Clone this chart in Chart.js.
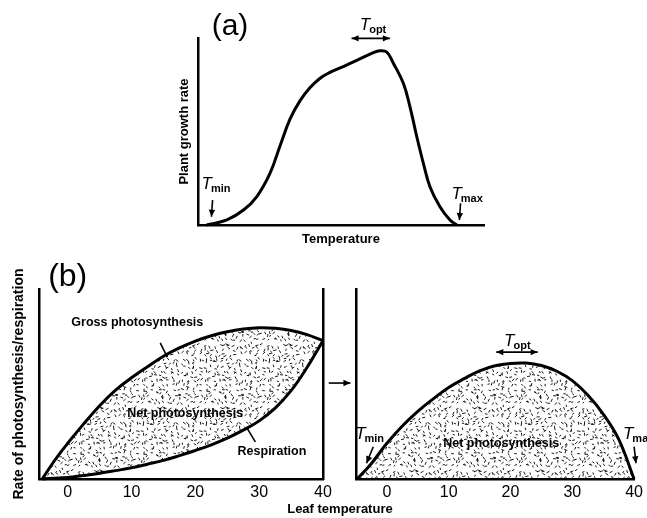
<!DOCTYPE html>
<html lang="en">
<head>
<meta charset="UTF-8">
<title>Temperature response of growth and photosynthesis</title>
<script src="https://cdn.jsdelivr.net/npm/chart.js"></script>
<style>
  body { margin: 0; background: #fff; }
  .stage { position: relative; width: 647px; height: 518px; overflow: hidden; }
  .stage canvas { position: absolute; left: 0; top: 0; }
</style>
</head>
<body>
<div class="stage">
  <canvas id="growthChart" width="647" height="518"></canvas>
  <canvas id="grossChart" width="647" height="518"></canvas>
  <canvas id="netChart" width="647" height="518"></canvas>
</div>
<script>
// (a) plant growth rate vs temperature (relative units, no scale on the axes)
const growthTemp = [3, 10.1, 15.9, 20.5, 25.2, 28.7, 32.2, 35.7, 39.2, 42.7, 46, 49.7, 55.5, 61.3, 63.6, 66, 68.3, 71.8, 74.1, 76.5, 78.8, 81.1, 84.6, 88.1, 90.5];
const growthRate = [0, 2.7, 8, 15.1, 27.8, 42.4, 56.7, 66.5, 73.5, 78.5, 81.5, 84, 88, 92.2, 93.2, 92.5, 86.5, 75.8, 63.3, 47.2, 33, 20.5, 9.8, 2.7, 0];

// (b) left: gross photosynthesis and respiration vs leaf temperature
const leafTemp = [-4, -2, 0, 2.5, 5, 7.5, 10, 12.5, 15, 17.5, 20, 22.5, 25, 27.5, 30, 32.5, 35, 37.5, 40];
const grossPhoto = [0, 10, 18.8, 29, 38.6, 46.8, 53.3, 59.1, 64.6, 69, 72.6, 75.4, 77.5, 78.9, 79.6, 79.3, 78.2, 76, 72.8];
const respiration = [0, 0.4, 0.8, 1.9, 3, 4.4, 5.9, 7.8, 9.8, 12.3, 15, 18, 21.5, 25.7, 30.6, 37.3, 46.5, 58.7, 72.8];

// (b) right: net photosynthesis vs leaf temperature
const netTemp = [-4.8, -2.5, 0, 2.5, 5, 7.5, 10, 12.5, 15, 17.5, 20, 22.5, 25, 27.5, 30, 32.5, 35, 37.5, 40];
const netPhoto = [0, 8.2, 18.8, 27.9, 35.6, 42.2, 48.2, 52.8, 56.9, 59.6, 60.8, 61, 59.7, 56.7, 51.8, 44.2, 34.2, 21, 0];

const leafTicks = [0, 10, 20, 30, 40];

const FONT = "'Liberation Sans', Arial, sans-serif";

// dashed stipple used for the shaded areas (jittered grid of short strokes)
function stipple() {
    const T = 63, step = 4.5;
    const c = document.createElement('canvas');
    c.width = T; c.height = T;
    const g = c.getContext('2d');
    g.strokeStyle = '#000';
    g.lineWidth = 0.9;
    let s = 12345;
    const next = () => (s = (s * 16807) % 2147483647) / 2147483647;
    for (let gx = 0; gx < T; gx += step) {
        for (let gy = 0; gy < T; gy += step) {
            const x = gx + next() * step, y = gy + next() * step;
            const a = next() * Math.PI, l = 2 + next() * 1.4;
            for (const dx of [-T, 0, T]) {
                for (const dy of [-T, 0, T]) {
                    g.beginPath();
                    g.moveTo(x + dx, y + dy);
                    g.lineTo(x + dx + Math.cos(a) * l, y + dy + Math.sin(a) * l);
                    g.stroke();
                }
            }
        }
    }
    return g.createPattern(c, 'repeat');
}

function arrowHead(ctx, x1, y1, x2, y2) {
    const a = Math.atan2(y2 - y1, x2 - x1), L = 7, W = 3.2;
    ctx.beginPath();
    ctx.moveTo(x2, y2);
    ctx.lineTo(x2 - L * Math.cos(a) + W * Math.sin(a), y2 - L * Math.sin(a) - W * Math.cos(a));
    ctx.lineTo(x2 - L * Math.cos(a) - W * Math.sin(a), y2 - L * Math.sin(a) + W * Math.cos(a));
    ctx.closePath();
    ctx.fill();
}

// labels, leader lines and arrows, placed in data units
const figNotes = {
    id: 'figNotes',
    afterDatasetsDraw(chart, args, opts) {
        const { ctx, scales: { x, y } } = chart;
        const px = v => x.getPixelForValue(v), py = v => y.getPixelForValue(v);
        ctx.save();
        ctx.fillStyle = '#000';
        ctx.strokeStyle = '#000';
        for (const n of opts.items || []) {
            if (n.type === 'text') {
                ctx.font = n.font;
                ctx.textAlign = 'center';
                ctx.textBaseline = 'middle';
                ctx.fillText(n.text, px(n.x), py(n.y));
            } else if (n.type === 'tsub') {
                ctx.textAlign = 'left';
                ctx.textBaseline = 'alphabetic';
                ctx.font = `italic 17px ${FONT}`;
                const wT = ctx.measureText('T').width;
                ctx.font = `bold 11px ${FONT}`;
                const wS = ctx.measureText(n.sub).width;
                const x0 = n.left ? px(n.x) : px(n.x) - (wT + wS - 1) / 2;
                const base = py(n.y) + 6;
                ctx.font = `italic 17px ${FONT}`;
                ctx.fillText('T', x0, base);
                ctx.font = `bold 11px ${FONT}`;
                ctx.fillText(n.sub, x0 + wT - 1, base + 3);
            } else if (n.type === 'line' || n.type === 'arrow') {
                const x1 = px(n.from[0]), y1 = py(n.from[1]), x2 = px(n.to[0]), y2 = py(n.to[1]);
                ctx.lineWidth = 1.6;
                ctx.beginPath();
                ctx.moveTo(x1, y1);
                ctx.lineTo(x2, y2);
                ctx.stroke();
                if (n.type === 'arrow') {
                    arrowHead(ctx, x1, y1, x2, y2);
                    if (n.both) arrowHead(ctx, x2, y2, x1, y1);
                }
            }
        }
        ctx.restore();
    }
};

const bare = { display: false, drawTicks: false };
const axisLine = { display: true, color: '#000', width: 2.5 };

function series(xs, ys, extra) {
    return Object.assign({
        data: xs.map((t, i) => ({ x: t, y: ys[i] })),
        borderColor: '#000',
        borderWidth: 3,
        pointRadius: 0,
        tension: 0.4,
        fill: false,
        clip: false
    }, extra);
}

function baseOptions(padding, items) {
    return {
        responsive: false,
        animation: false,
        events: [],
        layout: { padding: padding },
        plugins: {
            legend: { display: false },
            tooltip: { enabled: false },
            figNotes: { items: items }
        }
    };
}

const dots = stipple();
const labelFont = `bold 12.5px ${FONT}`;

// === (a) ===
const growthOpts = baseOptions({ left: 174, right: 163, top: 38, bottom: 269 }, [
    { type: 'text', text: '(a)', font: `30px ${FONT}`, x: 11.2, y: 106 },
    { type: 'tsub', sub: 'opt', x: 61.2, y: 107.3 },
    { type: 'arrow', both: true, from: [53.7, 99.8], to: [67.1, 99.8] },
    { type: 'tsub', sub: 'min', x: 6.3, y: 22.5 },
    { type: 'arrow', from: [5.1, 13.4], to: [4.7, 4.4] },
    { type: 'tsub', sub: 'max', x: 94.1, y: 17.1 },
    { type: 'arrow', from: [91.8, 11.6], to: [91.4, 2.7] }
]);
growthOpts.scales = {
    x: {
        type: 'linear', min: 0, max: 100,
        ticks: { display: false }, grid: bare, border: axisLine,
        title: { display: true, text: 'Temperature', color: '#000', font: { family: FONT, size: 13, weight: 'bold' }, padding: { top: 0, bottom: 2 } },
        afterFit: s => { s.height = 24; }
    },
    y: {
        min: 0, max: 100,
        ticks: { display: false }, grid: bare, border: axisLine,
        title: { display: true, text: 'Plant growth rate', color: '#000', font: { family: FONT, size: 13, weight: 'bold' }, padding: { top: 3, bottom: 0 } },
        afterFit: s => { s.width = 24; }
    }
};
new Chart(document.getElementById('growthChart'), {
    type: 'line',
    data: { datasets: [series(growthTemp, growthRate)] },
    options: growthOpts,
    plugins: [figNotes]
});

// === (b) left ===
const leafX = (min) => ({
    type: 'linear', min: min, max: 40,
    grid: bare, border: axisLine,
    ticks: { color: '#000', font: { family: FONT, size: 16 }, padding: 4 },
    afterBuildTicks: s => { s.ticks = leafTicks.map(v => ({ value: v })); },
    afterFit: s => { s.height = 30; }
});

const grossOpts = baseOptions({ left: 0, right: 324, top: 289, bottom: 9 }, [
    { type: 'text', text: '(b)', font: `32px ${FONT}`, x: 0, y: 106.3 },
    { type: 'text', text: 'Gross photosynthesis', font: labelFont, x: 10.9, y: 82.6 },
    { type: 'line', from: [14.5, 71.6], to: [15.6, 64.2] },
    { type: 'text', text: 'Net photosynthesis', font: labelFont, x: 18.4, y: 34.7 },
    { type: 'text', text: 'Respiration', font: labelFont, x: 32, y: 14.2 },
    { type: 'line', from: [28.1, 26.8], to: [29.4, 19.5] },
    { type: 'arrow', from: [40.9, 50.5], to: [44.3, 50.5] }
]);
grossOpts.scales = {
    x: leafX(-4.5),
    y: {
        min: 0, max: 100,
        ticks: { display: false }, grid: bare, border: axisLine,
        title: { display: true, text: 'Rate of photosynthesis/respiration', color: '#000', font: { family: FONT, size: 14, weight: 'bold' }, padding: { top: 11, bottom: 0 } },
        afterFit: s => { s.width = 39; }
    },
    y2: {
        position: 'right', min: 0, max: 100,
        ticks: { display: false }, grid: bare, border: axisLine,
        afterFit: s => { s.width = 0; }
    }
};
new Chart(document.getElementById('grossChart'), {
    type: 'line',
    data: {
        datasets: [
            series(leafTemp, grossPhoto, { label: 'Gross photosynthesis', fill: '+1', backgroundColor: dots }),
            series(leafTemp, respiration, { label: 'Respiration' })
        ]
    },
    options: grossOpts,
    plugins: [figNotes]
});

// === (b) right ===
const netOpts = baseOptions({ left: 356, right: 12, top: 289, bottom: 9 }, [
    { type: 'tsub', sub: 'opt', x: 21.1, y: 73.2 },
    { type: 'arrow', both: true, from: [17.7, 66.8], to: [24.4, 66.8] },
    { type: 'text', text: 'Net photosynthesis', font: labelFont, x: 18.5, y: 18.9 },
    { type: 'tsub', sub: 'min', x: -2.8, y: 24.2 },
    { type: 'arrow', from: [-2.2, 17], to: [-3.3, 8.3] },
    { type: 'tsub', sub: 'max', left: true, x: 38.2, y: 24.2 },
    { type: 'arrow', from: [40, 17], to: [40.3, 8.3] },
    { type: 'text', text: 'Leaf temperature', font: `bold 13px ${FONT}`, x: -7.6, y: -15.8 }
]);
netOpts.scales = {
    x: leafX(-5),
    y: {
        min: 0, max: 100,
        ticks: { display: false }, grid: bare, border: axisLine,
        afterFit: s => { s.width = 0; }
    }
};
new Chart(document.getElementById('netChart'), {
    type: 'line',
    data: { datasets: [series(netTemp, netPhoto, { label: 'Net photosynthesis', fill: 'origin', backgroundColor: dots })] },
    options: netOpts,
    plugins: [figNotes]
});
</script>
</body>
</html>
